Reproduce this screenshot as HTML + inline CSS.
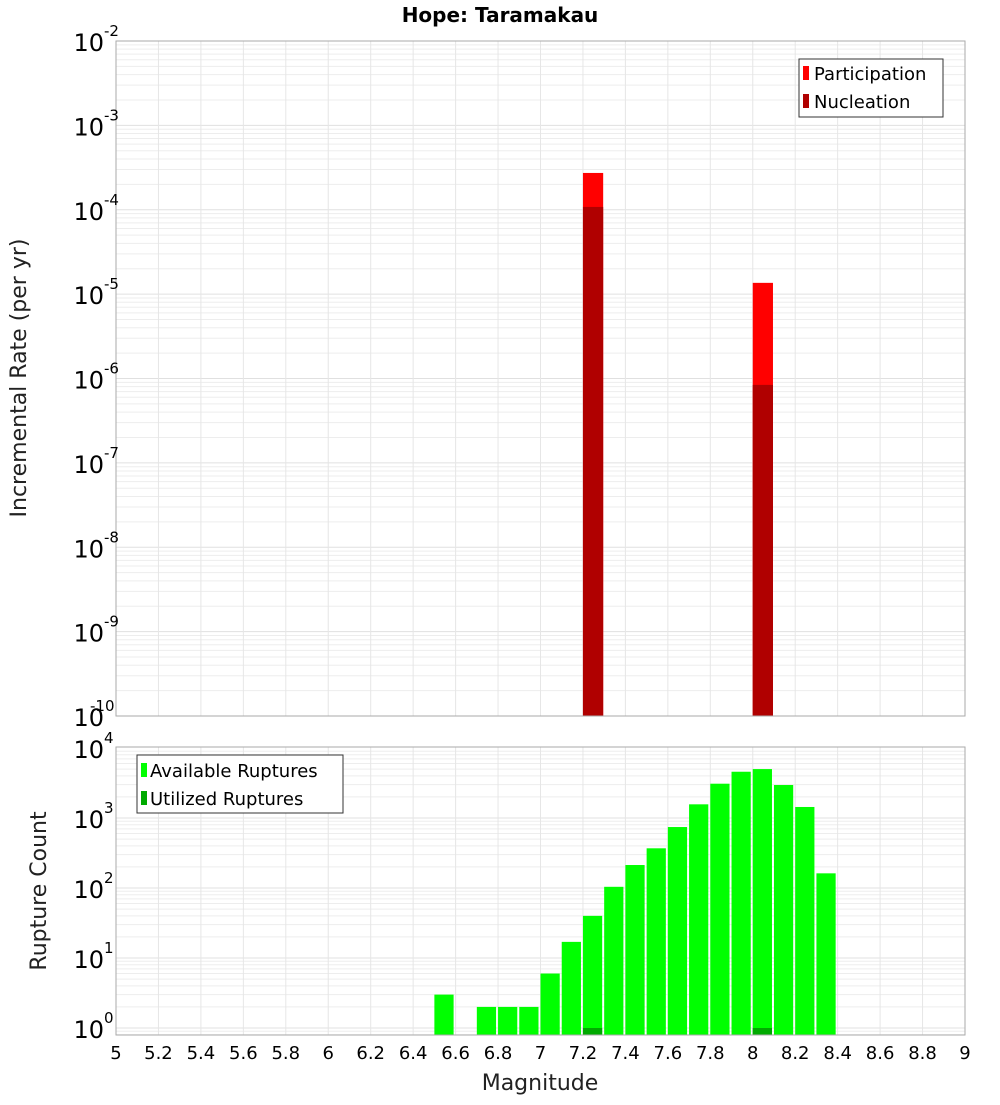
<!DOCTYPE html>
<html><head><meta charset="utf-8"><style>
body{margin:0;background:#fff}
svg text{font-family:"DejaVu Sans","Liberation Sans",sans-serif}
</style></head><body>
<svg id="c" width="1000" height="1100" xmlns="http://www.w3.org/2000/svg">
<text x="500" y="22" text-anchor="middle" font-size="20" font-weight="bold">Hope: Taramakau</text>
<text transform="translate(26,378) rotate(-90)" text-anchor="middle" font-size="22" fill="#222">Incremental Rate (per yr)</text>
<text transform="translate(46,891) rotate(-90)" text-anchor="middle" font-size="22" fill="#222">Rupture Count</text>
<text x="540" y="1090" text-anchor="middle" font-size="22" fill="#222">Magnitude</text>
<g id="topPanel"></g><g id="botPanel"></g>
<g>
<rect x="799" y="59" width="144" height="58" fill="#fff" stroke="#333"/>
<rect x="803" y="66" width="6" height="14" fill="#ff0000"/><text x="814" y="80" font-size="18">Participation</text>
<rect x="803" y="94" width="6" height="14" fill="#b00000"/><text x="814" y="108" font-size="18">Nucleation</text>
</g>
<g>
<rect x="137" y="755" width="206" height="58" fill="#fff" stroke="#333"/>
<rect x="141" y="763" width="6" height="14" fill="#00ff00"/><text x="150" y="777" font-size="18">Available Ruptures</text>
<rect x="141" y="791" width="6" height="14" fill="#00aa00"/><text x="150" y="805" font-size="18">Utilized Ruptures</text>
</g>
</svg>
<script>
const partMags=[7.25,8.05];
const partRates=[2.73e-4,1.36e-5];
const nuclRates=[1.08e-4,8.4e-7];
const availMags=[6.55,6.75,6.85,6.95,7.05,7.15,7.25,7.35,7.45,7.55,7.65,7.75,7.85,7.95,8.05,8.15,8.25,8.35];
const availCounts=[3,2,2,2,6,17,40,104,213,369,743,1568,3090,4580,5000,2960,1437,162];
const utilMags=[7.25,8.05];
const utilCounts=[1,1];
const xTicks=["5","5.2","5.4","5.6","5.8","6","6.2","6.4","6.6","6.8","7","7.2","7.4","7.6","7.8","8","8.2","8.4","8.6","8.8","9"];
const topExps=[-2,-3,-4,-5,-6,-7,-8,-9,-10];
const botExps=[4,3,2,1,0];
const NS="http://www.w3.org/2000/svg";
const L=116,R=965;
const xs=m=>L+(m-5)*(R-L)/4;
const yTop=v=>41+(-2-Math.log10(v))*(716-41)/8;
const yBot=v=>1028-70*Math.log10(v);
function mk(p,t,a){const e=document.createElementNS(NS,t);for(const k in a)e.setAttribute(k,a[k]);p.appendChild(e);return e;}
function panel(g,y0,y1,yf,lo,hi){
 for(let d=lo;d<hi;d++)for(let k=1;k<10;k++){const y=yf(k*Math.pow(10,d));if(y<y0||y>y1)continue;
  const l=mk(g,'line',{x1:L,x2:R,y1:y,y2:y,stroke:k==1?'#e0e0e0':'#ededed','stroke-width':1});
  
  }
 xTicks.forEach(t=>{const x=xs(+t);const l=mk(g,'line',{x1:x,x2:x,y1:y0,y2:y1,stroke:'#e6e6e6'});
  
  });
}
const gTop=document.getElementById('topPanel'),gBot=document.getElementById('botPanel');
panel(gTop,41,716,yTop,-10,-2);
panel(gBot,747,1035,yBot,-1,4);
function bar(g,m,v,yf,base,fill,w,name){
 const x=xs(m-0.05),y=yf(v);
 const r=mk(g,'rect',{x:x,y:y,width:w,height:base-y,fill:fill});
 
 
}
const bw=(R-L)/40;
partMags.forEach((m,i)=>bar(gTop,m,partRates[i],yTop,716,'#ff0000',bw-1,'participation-bar'));
partMags.forEach((m,i)=>bar(gTop,m,nuclRates[i],yTop,716,'#b00000',bw-1,'nucleation-bar'));
availMags.forEach((m,i)=>bar(gBot,m,availCounts[i],yBot,1035,'#00ff00',bw-2,'available-bar'));
utilMags.forEach((m,i)=>bar(gBot,m,utilCounts[i],yBot,1035,'#00aa00',bw-2,'utilized-bar'));
mk(gTop,'rect',{x:L,y:41,width:R-L,height:675,fill:'none',stroke:'#aaa'});
mk(gBot,'rect',{x:L,y:747,width:R-L,height:288,fill:'none',stroke:'#aaa'});
function ylab(g,e,y,name){
 const t=mk(g,'text',{x:104,y:y+10,'text-anchor':'end','font-size':24});
 
 
 t.textContent='10';
 const s=mk(g,'text',{x:e<=-10?90:104,y:y-5,'font-size':15});
 
 
 s.textContent=String(e);
}
topExps.forEach(e=>ylab(gTop,e,yTop(Math.pow(10,e)),'top-y-tick-label'));
botExps.forEach(e=>ylab(gBot,e,yBot(Math.pow(10,e)),'bottom-y-tick-label'));
xTicks.forEach(t=>{const tx=mk(gBot,'text',{x:xs(+t),y:1059,'text-anchor':'middle','font-size':18});
 
 
 tx.textContent=t;});
</script>
</body></html>
